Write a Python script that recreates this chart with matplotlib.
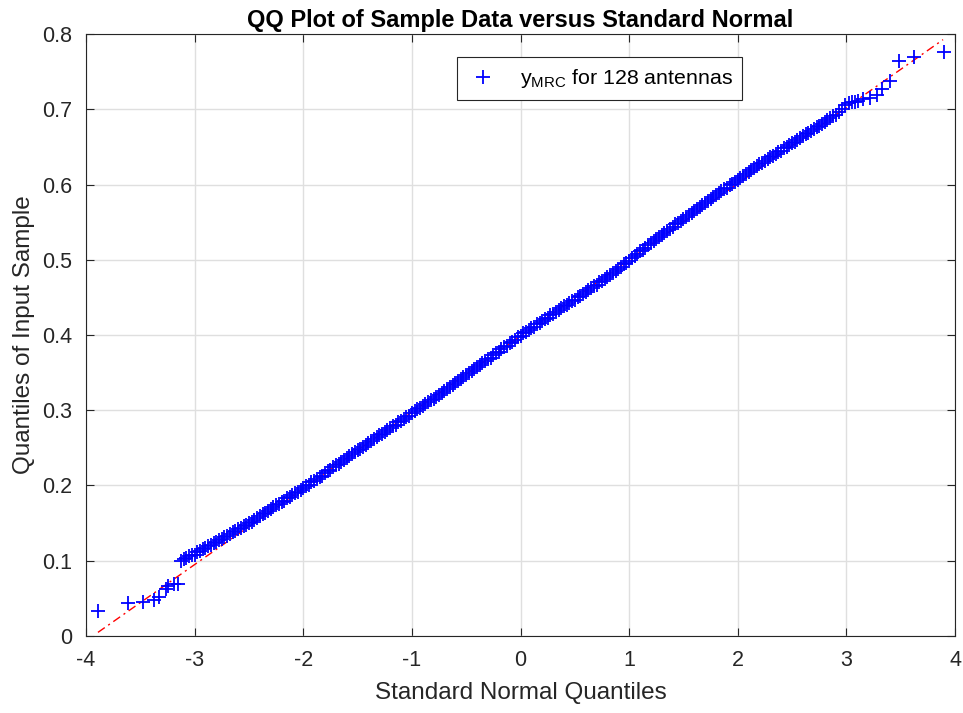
"""QQ plot of y_MRC (128 antennas) against the standard normal quantiles."""

import matplotlib

matplotlib.use("Agg")
import matplotlib.pyplot as plt
from matplotlib.ticker import FuncFormatter, MultipleLocator

# values
lower_tail_x = [-3.887, -3.611, -3.479, -3.372, -3.326, -3.264, -3.243, -3.194, -3.151]
lower_tail_y = [0.0327, 0.0438, 0.0451, 0.0482, 0.0517, 0.0624, 0.0668, 0.0685, 0.0694]

band_x = [
    -3.126, -3.10, -3.05, -3.00, -2.95, -2.90, -2.85, -2.80, -2.75, -2.70, -2.65,
    -2.60, -2.55, -2.50, -2.45, -2.40, -2.35, -2.30, -2.25, -2.20, -2.15,
    -2.10, -2.05, -2.00, -1.95, -1.90, -1.85, -1.80, -1.75, -1.70, -1.65,
    -1.60, -1.55, -1.50, -1.45, -1.40, -1.35, -1.30, -1.25, -1.20, -1.15,
    -1.10, -1.05, -1.00, -0.95, -0.90, -0.85, -0.80, -0.75, -0.70, -0.65,
    -0.60, -0.55, -0.50, -0.45, -0.40, -0.35, -0.30, -0.25, -0.20, -0.15,
    -0.10, -0.05, 0.00, 0.05, 0.10, 0.15, 0.20, 0.25, 0.30, 0.35,
    0.40, 0.45, 0.50, 0.55, 0.60, 0.65, 0.70, 0.75, 0.80, 0.85,
    0.90, 0.95, 1.00, 1.05, 1.10, 1.15, 1.20, 1.25, 1.30, 1.35,
    1.40, 1.45, 1.50, 1.55, 1.60, 1.65, 1.70, 1.75, 1.80, 1.85,
    1.90, 1.95, 2.00, 2.05, 2.10, 2.15, 2.20, 2.25, 2.30, 2.35,
    2.40, 2.45, 2.50, 2.55, 2.60, 2.65, 2.70, 2.75, 2.80, 2.85, 2.90,
]
band_y = [
    0.100, 0.102, 0.106, 0.108, 0.113, 0.117, 0.121, 0.125, 0.129, 0.133, 0.138,
    0.142, 0.146, 0.150, 0.154, 0.160, 0.164, 0.169, 0.174, 0.178, 0.183,
    0.187, 0.192, 0.197, 0.201, 0.206, 0.211, 0.216, 0.221, 0.227, 0.231,
    0.236, 0.242, 0.247, 0.251, 0.257, 0.262, 0.267, 0.271, 0.276, 0.281,
    0.286, 0.291, 0.296, 0.301, 0.306, 0.311, 0.315, 0.320, 0.325, 0.331,
    0.336, 0.341, 0.347, 0.352, 0.357, 0.363, 0.368, 0.373, 0.378, 0.384,
    0.389, 0.394, 0.399, 0.404, 0.409, 0.414, 0.418, 0.423, 0.428, 0.433,
    0.438, 0.443, 0.447, 0.452, 0.457, 0.462, 0.467, 0.472, 0.477, 0.482,
    0.488, 0.494, 0.499, 0.505, 0.511, 0.516, 0.522, 0.527, 0.533, 0.538,
    0.544, 0.549, 0.554, 0.560, 0.565, 0.570, 0.575, 0.581, 0.586, 0.591,
    0.596, 0.601, 0.606, 0.611, 0.616, 0.622, 0.627, 0.631, 0.636, 0.640,
    0.645, 0.650, 0.655, 0.659, 0.664, 0.669, 0.674, 0.678, 0.683, 0.688, 0.693,
]

# band read again between the points above
band_mid_x = [
    -3.075, -3.025, -2.975, -2.925, -2.875, -2.825, -2.775, -2.725, -2.675, -2.625,
    -2.575, -2.525, -2.475, -2.425, -2.375, -2.325, -2.275, -2.225, -2.175, -2.125,
    -2.075, -2.025, -1.975, -1.925, -1.875, -1.825, -1.775, -1.725, -1.675, -1.625,
    -1.575, -1.525, -1.475, -1.425, -1.375, -1.325, -1.275, -1.225, -1.175, -1.125,
    -1.075, -1.025, -0.975, -0.925, -0.875, -0.825, -0.775, -0.725, -0.675, -0.625,
    -0.575, -0.525, -0.475, -0.425, -0.375, -0.325, -0.275, -0.225, -0.175, -0.125,
    -0.075, -0.025, 0.025, 0.075, 0.125, 0.175, 0.225, 0.275, 0.325, 0.375,
    0.425, 0.475, 0.525, 0.575, 0.625, 0.675, 0.725, 0.775, 0.825, 0.875,
    0.925, 0.975, 1.025, 1.075, 1.125, 1.175, 1.225, 1.275, 1.325, 1.375,
    1.425, 1.475, 1.525, 1.575, 1.625, 1.675, 1.725, 1.775, 1.825, 1.875,
    1.925, 1.975, 2.025, 2.075, 2.125, 2.175, 2.225, 2.275, 2.325, 2.375,
    2.425, 2.475, 2.525, 2.575, 2.625, 2.675, 2.725, 2.775, 2.825, 2.875,
]
band_mid_y = [
    0.104, 0.107, 0.111, 0.115, 0.119, 0.123, 0.127, 0.131, 0.136, 0.140,
    0.144, 0.148, 0.152, 0.157, 0.162, 0.166, 0.171, 0.176, 0.180, 0.185,
    0.190, 0.194, 0.199, 0.204, 0.209, 0.213, 0.219, 0.224, 0.229, 0.234,
    0.239, 0.244, 0.249, 0.254, 0.259, 0.264, 0.269, 0.274, 0.279, 0.284,
    0.288, 0.293, 0.299, 0.303, 0.308, 0.313, 0.318, 0.323, 0.328, 0.333,
    0.339, 0.344, 0.349, 0.355, 0.360, 0.365, 0.370, 0.376, 0.381, 0.386,
    0.391, 0.397, 0.402, 0.406, 0.411, 0.416, 0.421, 0.426, 0.431, 0.436,
    0.440, 0.445, 0.450, 0.455, 0.460, 0.465, 0.470, 0.475, 0.480, 0.485,
    0.491, 0.496, 0.502, 0.508, 0.513, 0.519, 0.525, 0.530, 0.535, 0.541,
    0.547, 0.552, 0.557, 0.562, 0.568, 0.573, 0.578, 0.583, 0.589, 0.594,
    0.599, 0.603, 0.609, 0.614, 0.619, 0.624, 0.629, 0.634, 0.638, 0.643,
    0.648, 0.652, 0.657, 0.662, 0.667, 0.671, 0.676, 0.681, 0.686, 0.691,
]

upper_tail_x = [2.93, 2.96, 2.99, 3.02, 3.05, 3.08, 3.11, 3.157, 3.218, 3.28,
                3.326, 3.402, 3.488, 3.623, 3.899]
upper_tail_y = [0.697, 0.701, 0.705, 0.708, 0.7097, 0.710, 0.711, 0.713, 0.715,
                0.7186, 0.7275, 0.737, 0.7637, 0.770, 0.776]

ref_x = [-3.89, 3.89]
ref_y = [0.0048, 0.7925]

x_ticks = [-4, -3, -2, -1, 0, 1, 2, 3, 4]
legend_label = r"$\mathregular{y_{MRC}}$ for 128 antennas"

AX_COLOR = "#262626"


def main():
    plt.rcParams["font.family"] = ["Liberation Sans", "DejaVu Sans"]
    plt.rcParams["mathtext.fontset"] = "custom"
    plt.rcParams["mathtext.rm"] = "Liberation Sans"
    plt.rcParams["axes.unicode_minus"] = False

    fig = plt.figure(figsize=(9.63, 7.13), dpi=100)
    ax = fig.add_axes([0.0893, 0.108, 0.9024, 0.8443])

    ax.plot(ref_x, ref_y, linestyle=(0, (6, 3, 1.5, 3)), color="red",
            linewidth=1.0, zorder=2)

    pairs = sorted(zip(lower_tail_x + band_x + band_mid_x + upper_tail_x,
                       lower_tail_y + band_y + band_mid_y + upper_tail_y))
    sample_x = [p[0] for p in pairs]
    sample_y = [p[1] for p in pairs]
    ax.plot(sample_x, sample_y, linestyle="none", marker="+", color="blue",
            markersize=10, markeredgewidth=1.3, label=legend_label, zorder=3)

    ax.set_xlim(-4, 4)
    ax.set_ylim(0, 0.8)
    ax.set_xticks(x_ticks)
    ax.yaxis.set_major_locator(MultipleLocator(0.1))
    ax.yaxis.set_major_formatter(FuncFormatter(lambda v, _: f"{v:g}"))

    ax.grid(True, color="#dfdfdf", linewidth=1.0, zorder=0)
    ax.set_axisbelow(True)
    ax.tick_params(direction="in", top=True, right=True, length=6, width=0.8,
                   colors=AX_COLOR, labelsize=15.5, pad=10)
    for spine in ax.spines.values():
        spine.set_color(AX_COLOR)
        spine.set_linewidth(0.8)

    ax.set_xlabel("Standard Normal Quantiles", fontsize=17.5, color=AX_COLOR, labelpad=8)
    ax.set_ylabel("Quantiles of Input Sample", fontsize=17.5, color=AX_COLOR, labelpad=5)
    ax.set_title("QQ Plot of Sample Data versus Standard Normal",
                 fontsize=17, fontweight="bold", color="black", pad=5)

    leg = ax.legend(loc="center", bbox_to_anchor=(599.5 / 963, 1 - 78.5 / 713),
                    bbox_transform=fig.transFigure, fontsize=15.4, fancybox=False,
                    framealpha=1, edgecolor=AX_COLOR, borderpad=0.45,
                    handlelength=1.6, handletextpad=0.9)
    leg.get_frame().set_linewidth(0.8)

    fig.savefig("out.png", dpi=100)


if __name__ == "__main__":
    main()
